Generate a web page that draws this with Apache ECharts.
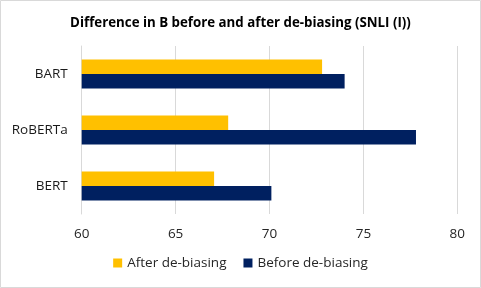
<!DOCTYPE html>
<html><head><meta charset="utf-8">
<script src="https://cdn.jsdelivr.net/npm/echarts@6/dist/echarts.min.js"></script>
<style>html,body{margin:0;padding:0;background:#fff}#c{width:481px;height:288px}</style>
</head><body><div id="c"></div>
<script>
var categories = ['BERT', 'RoBERTa', 'BART'];
var afterValues = [67.05, 67.8, 72.8];
var beforeValues = [70.1, 77.8, 74.0];
var xTicks = [60, 65, 70, 75, 80];
var seriesNames = ['After de-biasing', 'Before de-biasing'];
var titleText = 'Difference in B before and after de-biasing (SNLI (I))';

var chart = echarts.init(document.getElementById('c'), null, {renderer: 'canvas'});
var font = 'Open Sans';
chart.setOption({
  animation: false,
  textStyle: {fontFamily: font},
  graphic: [{type: 'rect', shape: {x: 0.5, y: 0.5, width: 480, height: 287}, style: {fill: 'none', stroke: '#d9d9d9', lineWidth: 1}}],
  title: {text: titleText, left: 'center', top: 12,
    textStyle: {fontFamily: font, fontWeight: 'bold', fontSize: 13.3, color: '#000'}},
  legend: {data: seriesNames, bottom: 13, left: 'center', itemWidth: 9, itemHeight: 9, itemGap: 17,
    icon: 'rect', textStyle: {fontFamily: font, fontSize: 13.5, color: '#262626'}},
  grid: {left: 81.7, right: 23.7, top: 46, bottom: 74, containLabel: false},
  xAxis: {type: 'value', min: xTicks[0], max: xTicks[xTicks.length - 1], interval: 5,
    axisLine: {show: false}, axisTick: {show: false},
    splitLine: {show: true, lineStyle: {color: '#d9d9d9', width: 1}},
    axisLabel: {fontFamily: font, fontSize: 13.5, color: '#262626', margin: 13}},
  yAxis: {type: 'category', data: categories,
    axisLine: {show: true, lineStyle: {color: '#d9d9d9'}}, axisTick: {show: false},
    axisLabel: {fontFamily: font, fontSize: 13.5, color: '#1a1a1a', margin: 14}},
  series: [
    {name: seriesNames[0], type: 'bar', data: afterValues, itemStyle: {color: '#FFC000'},
      barGap: '0%', barCategoryGap: '48%'},
    {name: seriesNames[1], type: 'bar', data: beforeValues, itemStyle: {color: '#002060'},
      barGap: '0%', barCategoryGap: '48%'}
  ]
});
</script></body></html>
